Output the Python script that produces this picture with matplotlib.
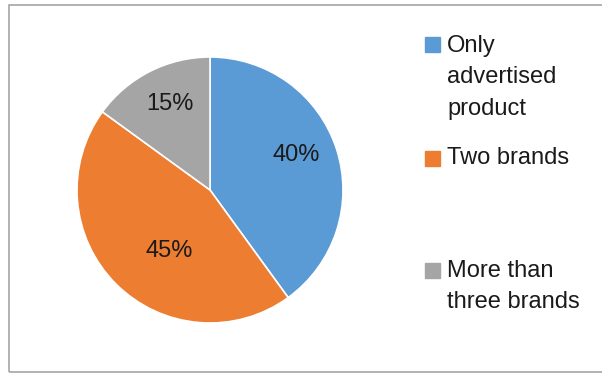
import matplotlib.pyplot as plt
from matplotlib.patches import Rectangle

labels = ["Only\nadvertised\nproduct", "Two brands", "More than\nthree brands"]
shares = [40, 45, 15]
colors = ["#5B9BD5", "#ED7D31", "#A5A5A5"]

W, H = 602, 374
plt.rcParams['font.family'] = ['Liberation Sans', 'DejaVu Sans']
fig = plt.figure(figsize=(W / 100, H / 100), dpi=100)

# outer chart border (right edge runs off the image)
fig.patches.append(Rectangle((9 / W, 1 - 372 / H), 700 / W, 367 / H,
                             transform=fig.transFigure, fill=False,
                             edgecolor="#A6A6A6", linewidth=1.2))

ax = fig.add_axes([77 / W, 1 - 323 / H, 266 / W, 266 / H])
wedges, texts, autotexts = ax.pie(shares, colors=colors, startangle=90,
                                  counterclock=False, autopct='%d%%',
                                  pctdistance=0.7,
                                  wedgeprops=dict(edgecolor='white', linewidth=1.2),
                                  textprops=dict(fontsize=17, color='#1a1a1a'))
# excel "best fit" label spots
label_pos = [(0.65, 0.26), (-0.31, -0.46), (-0.30, 0.65)]
for t, p in zip(autotexts, label_pos):
    t.set_position(p)
ax.set_xlim(-1, 1)
ax.set_ylim(-1, 1)
ax.set_aspect('equal')
ax.axis('off')

# legend drawn by hand to match the uneven Excel layout
box_top = [37, 151, 263]
text_top = [35, 147, 260]
for lab, col, bt, tt in zip(labels, colors, box_top, text_top):
    fig.patches.append(Rectangle((425 / W, 1 - (bt + 15) / H), 15 / W, 15 / H,
                                 transform=fig.transFigure, color=col))
    fig.text(447 / W, 1 - tt / H, lab, fontsize=17, va='top', ha='left',
             color='#1a1a1a', linespacing=1.55)

fig.savefig("out.png", dpi=100)
